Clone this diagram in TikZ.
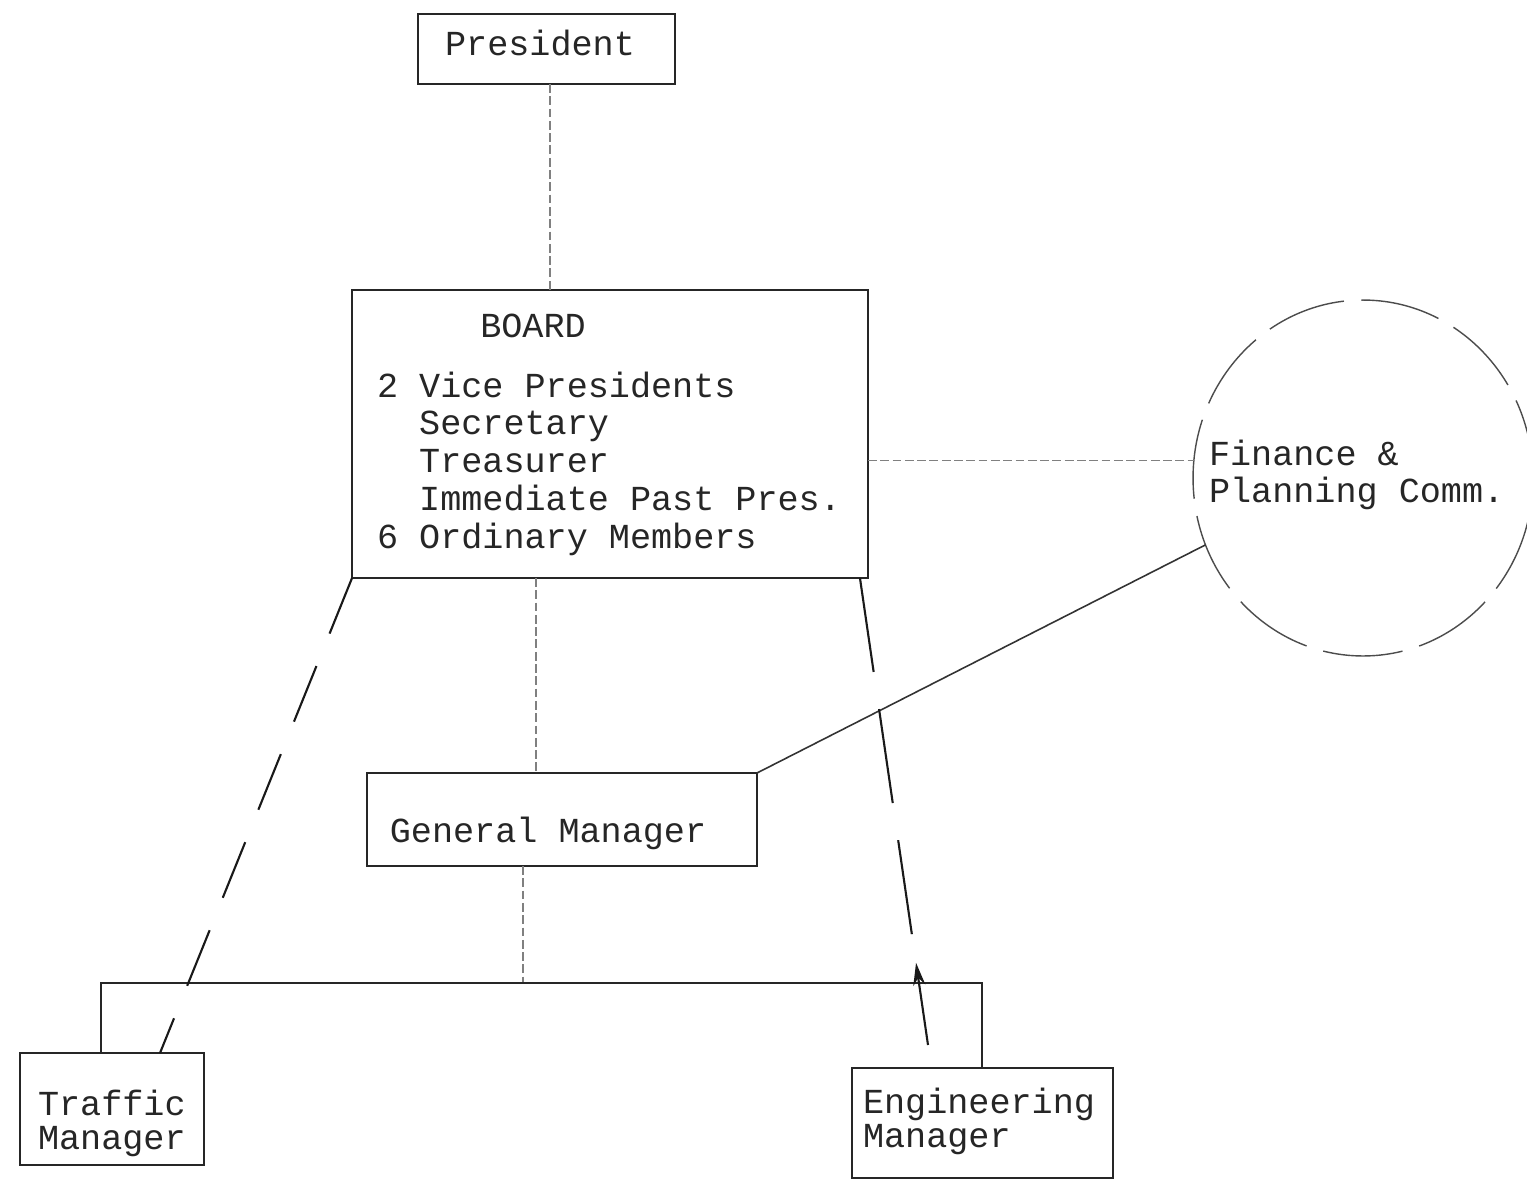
\documentclass[tikz,border=0pt]{standalone}
\usepackage{fontspec}
\setmonofont{Liberation Mono}
\usetikzlibrary{shapes.geometric,arrows.meta,calc}
\begin{document}
\begin{tikzpicture}[x=0.02cm,y=-0.02cm,
  box/.style={draw=black!85, line width=1.1pt, inner sep=0pt, outer sep=0pt},
  txt/.style={font=\ttfamily\fontsize{20}{21.6}\selectfont, text=black!85, inner sep=0pt, outer sep=0pt},
  txtb/.style={font=\ttfamily\fontsize{20}{19.9}\selectfont, text=black!85, inner sep=0pt, outer sep=0pt},
  faint/.style={draw=black!50, line width=0.6pt, dash pattern=on 5pt off 2pt},
  plain/.style={draw=black!80, line width=0.9pt},
  longdash/.style={draw=black!90, line width=1.2pt, dash pattern=on 1.2cm off 0.7cm},
  longdashr/.style={draw=black!90, line width=1.2pt, dash pattern=on 1.9cm off 0.75cm},
  circdash/.style={draw=black!70, line width=0.8pt, dash pattern=on 1.6cm off 0.35cm}]
\useasboundingbox (0,0) rectangle (1527,1180);
\fill[white] (0,0) rectangle (1527,1180);

% boxes
\node[box, minimum width=5.14cm, minimum height=1.4cm] (pres) at (546.5,49) {};
\node[box, minimum width=10.32cm, minimum height=5.76cm] (board) at (610,434) {};
\node[box, minimum width=7.8cm, minimum height=1.86cm] (gm) at (562,819.5) {};
\node[box, minimum width=3.68cm, minimum height=2.24cm] (traffic) at (112,1109) {};
\node[box, minimum width=5.22cm, minimum height=2.2cm] (eng) at (982.5,1123) {};
\node[ellipse, circdash, minimum width=6.8cm, minimum height=7.12cm, inner sep=0pt, outer sep=0pt] (fin) at (1363,478) {};

% texts
\node[txt, anchor=base] (prestext) at (540,55) {President};
\node[txt, anchor=base] (boardtitle) at (533,337) {BOARD};
\node[txt, anchor=base west] (boardlist) at (377,397) {\begin{tabular}[t]{@{}l@{\ }l@{}}
2 & Vice Presidents\\
  & Secretary\\
  & Treasurer\\
  & Immediate Past Pres.\\
6 & Ordinary Members
\end{tabular}};
\node[txt, anchor=base] (gmtext) at (548,842) {General Manager};
\node[txtb, anchor=base west] (traffictext) at (38,1115) {\begin{tabular}[t]{@{}l@{}}Traffic\\Manager\end{tabular}};
\node[txtb, anchor=base west] (engtext) at (863,1113) {\begin{tabular}[t]{@{}l@{}}Engineering\\Manager\end{tabular}};
\node[txt, anchor=base west] (fintext) at (1209,465) {\begin{tabular}[t]{@{}l@{}}Finance \&\\Planning Comm.\end{tabular}};

% coordinates
\coordinate (barL) at (101,983);
\coordinate (barM) at (523,983);
\coordinate (barR) at (982,983);
\coordinate (engtip) at (928,1045);
\coordinate (bse) at ([xshift=-0.16cm]board.south east);
\coordinate (arr) at ($(bse)!0.824!(engtip)$);

% connectors
\draw[faint] (pres.south -| 550,0) -- (board.north -| 550,0);
\draw[faint] (board.south -| 536,0) -- (gm.north -| 536,0);
\draw[faint] (gm.south -| barM) -- (barM);
\draw[faint] (board.east |- fin.174) -- (fin.174);
\draw[plain] (gm.north east) -- (fin.203);
\draw[box] (traffic.north -| barL) -- (barL) -- (barR) -- (eng.north -| barR);
\draw[longdash] (board.south west) -- (traffic.north -| 160,0);
\draw[longdashr] (bse) -- (arr);
\draw[draw=black!90, line width=1.2pt, -{Stealth[length=0.45cm,width=0.24cm]}] (engtip) -- (arr);
\end{tikzpicture}
\end{document}
